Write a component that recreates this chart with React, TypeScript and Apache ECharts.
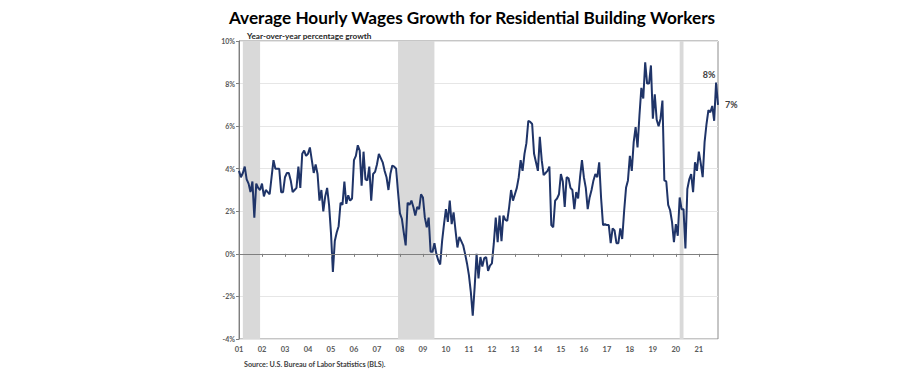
import React, { useEffect, useRef } from 'react';
import * as echarts from 'echarts';

// Year tick labels (January of each year, month index = 12 * i)
const yearLabels = ['01', '02', '03', '04', '05', '06', '07', '08', '09', '10', '11', '12', '13', '14', '15', '16', '17', '18', '19', '20', '21'];

// Year-over-year growth (%), monthly from Jan 2001
const growth = [
  3.9, 3.6, 3.8, 4.1, 3.5, 3.3, 2.9, 3.4, 1.7, 3.3, 3.1, 3.0,
  3.3, 2.7, 3.0, 2.9, 2.8, 3.6, 4.4, 4.0, 4.0, 4.0, 2.9, 2.9,
  3.6, 3.8, 3.8, 3.45, 2.9, 3.0, 3.1, 4.1, 3.1, 4.7, 4.85, 4.6,
  4.7, 5.0, 4.4, 3.8, 4.2, 3.75, 2.5, 3.0, 2.0, 2.7, 3.1, 2.3,
  1.0, -0.85, 0.6, 1.0, 1.3, 2.4, 2.3, 3.4, 2.35, 2.75, 2.5, 2.6,
  4.4, 4.6, 5.1, 4.85, 3.2, 4.8, 3.5, 3.45, 4.1, 2.5, 3.75,
  3.85, 4.2, 4.7, 4.5, 4.3, 3.9, 3.6, 3.0, 3.75, 4.15, 4.1, 4.0,
  2.9, 1.9, 1.65, 1.0, 0.4, 2.4, 2.3, 2.5, 2.2, 1.8, 2.2, 2.1,
  2.8, 2.65, 1.7, 1.25, 1.7, 0.1, 0.1, 0.5, 0.0, -0.3, -0.5, 0.6,
  1.4, 2.1, 1.5, 2.5, 1.4, 1.95, 1.1, 0.3, 0.8, 0.6, 0.4, 0.0,
  -0.45, -1.0, -1.8, -2.9, -1.55, 0.0, -1.15, -0.15, -0.6, -0.2, -0.15, -0.8,
  -0.55, -0.45, 0.5, 1.7, 0.55, 1.8, 0.6, 1.8, 1.6, 1.55, 2.2, 3.0,
  2.5, 2.8, 3.1, 3.6, 4.4, 3.9, 4.7, 5.2, 6.25, 6.2, 6.1, 4.7,
  4.3, 3.9, 5.5, 4.4, 3.7, 3.8, 3.9, 4.1, 1.35, 1.25, 2.5, 2.6,
  2.8, 3.75, 3.4, 2.2, 3.6, 3.55, 3.1, 3.0, 2.1, 2.9, 2.6, 3.6,
  4.4, 3.6, 3.1, 2.1, 2.65, 3.0, 3.45, 3.75, 3.6, 4.3, 2.6,
  1.35, 1.4, 1.35, 1.35, 0.5, 1.2, 1.1, 0.5, 0.5, 1.2, 0.7, 2.0,
  3.1, 3.45, 4.6, 3.9, 5.25, 5.95, 5.0, 6.5, 7.8, 7.3, 9.0, 8.0,
  8.0, 8.85, 6.35, 7.5, 6.3, 6.0, 6.35, 7.2, 3.45, 3.4, 2.3, 2.05,
  1.5, 0.55, 1.4, 0.85, 2.65, 2.1, 2.1, 0.25, 3.05, 3.5, 3.75, 2.9,
  4.3, 3.9, 4.8, 4.25, 3.6, 5.25, 6.1, 6.75, 6.65, 6.95, 6.25, 8.05, 7.0,
];

// Recession bands, in month indices from Jan 2001
const recessions = [
  [2, 11],
  [83, 102],
  [230, 232],
];

// Callout labels: data index -> label position
const callouts: Record<number, string> = { 249: 'top', 250: 'right' };

const titleText = 'Average Hourly Wages Growth for Residential Building Workers';
const subtitleText = 'Year-over-year percentage growth';
const sourceText = 'Source: U.S. Bureau of Labor Statistics (BLS).';

const FONT = 'Lato, "Open Sans", sans-serif';

export default function App() {
  const ref = useRef<HTMLDivElement>(null);
  useEffect(() => {
    if (!ref.current) return;
    const chart = echarts.init(ref.current, null, { renderer: 'svg' });
    const lastIndex = growth.length - 1;
    const tickValues = yearLabels.map((_, i) => i * 12);
    const seriesData = growth.map((v, i) => {
      const pos = callouts[i];
      if (!pos) return [i, v];
      return {
        value: [i, v],
        label: {
          show: true,
          position: pos,
          distance: pos === 'top' ? 4 : 7,
          offset: pos === 'top' ? [-7, 0] : [0, 0],
          formatter: `${Math.round(v)}%`,
          fontFamily: FONT,
          fontWeight: 'bold',
          fontSize: 9,
          color: '#404040',
        },
      };
    });
    const option: any = {
      animation: false,
      grid: {
        left: 239,
        top: 41,
        width: 479,
        height: 298,
        show: true,
        borderColor: '#8c8c8c',
        borderWidth: 1,
        containLabel: false,
      },
      xAxis: [
        {
          type: 'value',
          min: 0,
          max: lastIndex,
          position: 'bottom',
          axisLine: { show: false, onZero: false },
          axisTick: { show: false },
          splitLine: { show: false },
          axisLabel: {
            customValues: tickValues,
            formatter: (v: number) => yearLabels[Math.round(v / 12)] ?? '',
            fontFamily: FONT,
            fontWeight: 'bold',
            fontSize: 7.5,
            color: '#595959',
            margin: 6,
          },
        },
        {
          type: 'value',
          min: 0,
          max: lastIndex,
          position: 'bottom',
          z: 5,
          axisLine: { show: true, onZero: true, lineStyle: { color: '#7f7f7f', width: 1 } },
          axisTick: {
            show: true,
            customValues: tickValues.slice(1),
            length: 3,
            lineStyle: { color: '#7f7f7f' },
          },
          axisLabel: { show: false },
          splitLine: { show: false },
        },
      ],
      yAxis: {
        type: 'value',
        min: -4,
        max: 10,
        interval: 2,
        axisLine: { show: true, lineStyle: { color: '#7f7f7f' } },
        axisTick: { show: true, length: 3, lineStyle: { color: '#7f7f7f' } },
        splitLine: { show: true, lineStyle: { color: '#e6e6e6', width: 1 } },
        axisLabel: {
          formatter: (v: number) => `${v}%`,
          fontFamily: FONT,
          fontWeight: 'bold',
          fontSize: 7,
          color: '#595959',
          margin: 4,
        },
      },
      series: [
        {
          type: 'line',
          xAxisIndex: 0,
          data: seriesData,
          symbol: 'circle',
          symbolSize: 0,
          showSymbol: true,
          showAllSymbol: true,
          z: 3,
          lineStyle: { color: '#1f3468', width: 2 },
          itemStyle: { color: '#1f3468' },
          emphasis: { disabled: true },
          markArea: {
            silent: true,
            itemStyle: { color: '#d9d9d9' },
            data: recessions.map(([a, b]) => [{ xAxis: a }, { xAxis: b }]),
          },
        },
      ],
      graphic: [
        {
          type: 'text',
          x: 472,
          y: 17,
          style: {
            text: titleText,
            textAlign: 'center',
            textVerticalAlign: 'middle',
            fontFamily: FONT,
            fontWeight: 'bold',
            fontSize: 17.2,
            fill: '#000000',
          },
        },
        {
          type: 'text',
          x: 247,
          y: 36,
          style: {
            text: subtitleText,
            textAlign: 'left',
            textVerticalAlign: 'middle',
            fontFamily: FONT,
            fontWeight: 'bold',
            fontSize: 8.2,
            fill: '#262626',
          },
        },
        {
          type: 'text',
          x: 244,
          y: 364,
          style: {
            text: sourceText,
            textAlign: 'left',
            textVerticalAlign: 'middle',
            fontFamily: FONT,
            fontWeight: 'bold',
            fontSize: 7.2,
            fill: '#404040',
          },
        },
      ],
    };
    chart.setOption(option);
    return () => chart.dispose();
  }, []);
  return (
    <div
      ref={ref}
      style={{ position: 'fixed', left: 0, top: 0, width: 904, height: 377, background: '#ffffff' }}
    />
  );
}
